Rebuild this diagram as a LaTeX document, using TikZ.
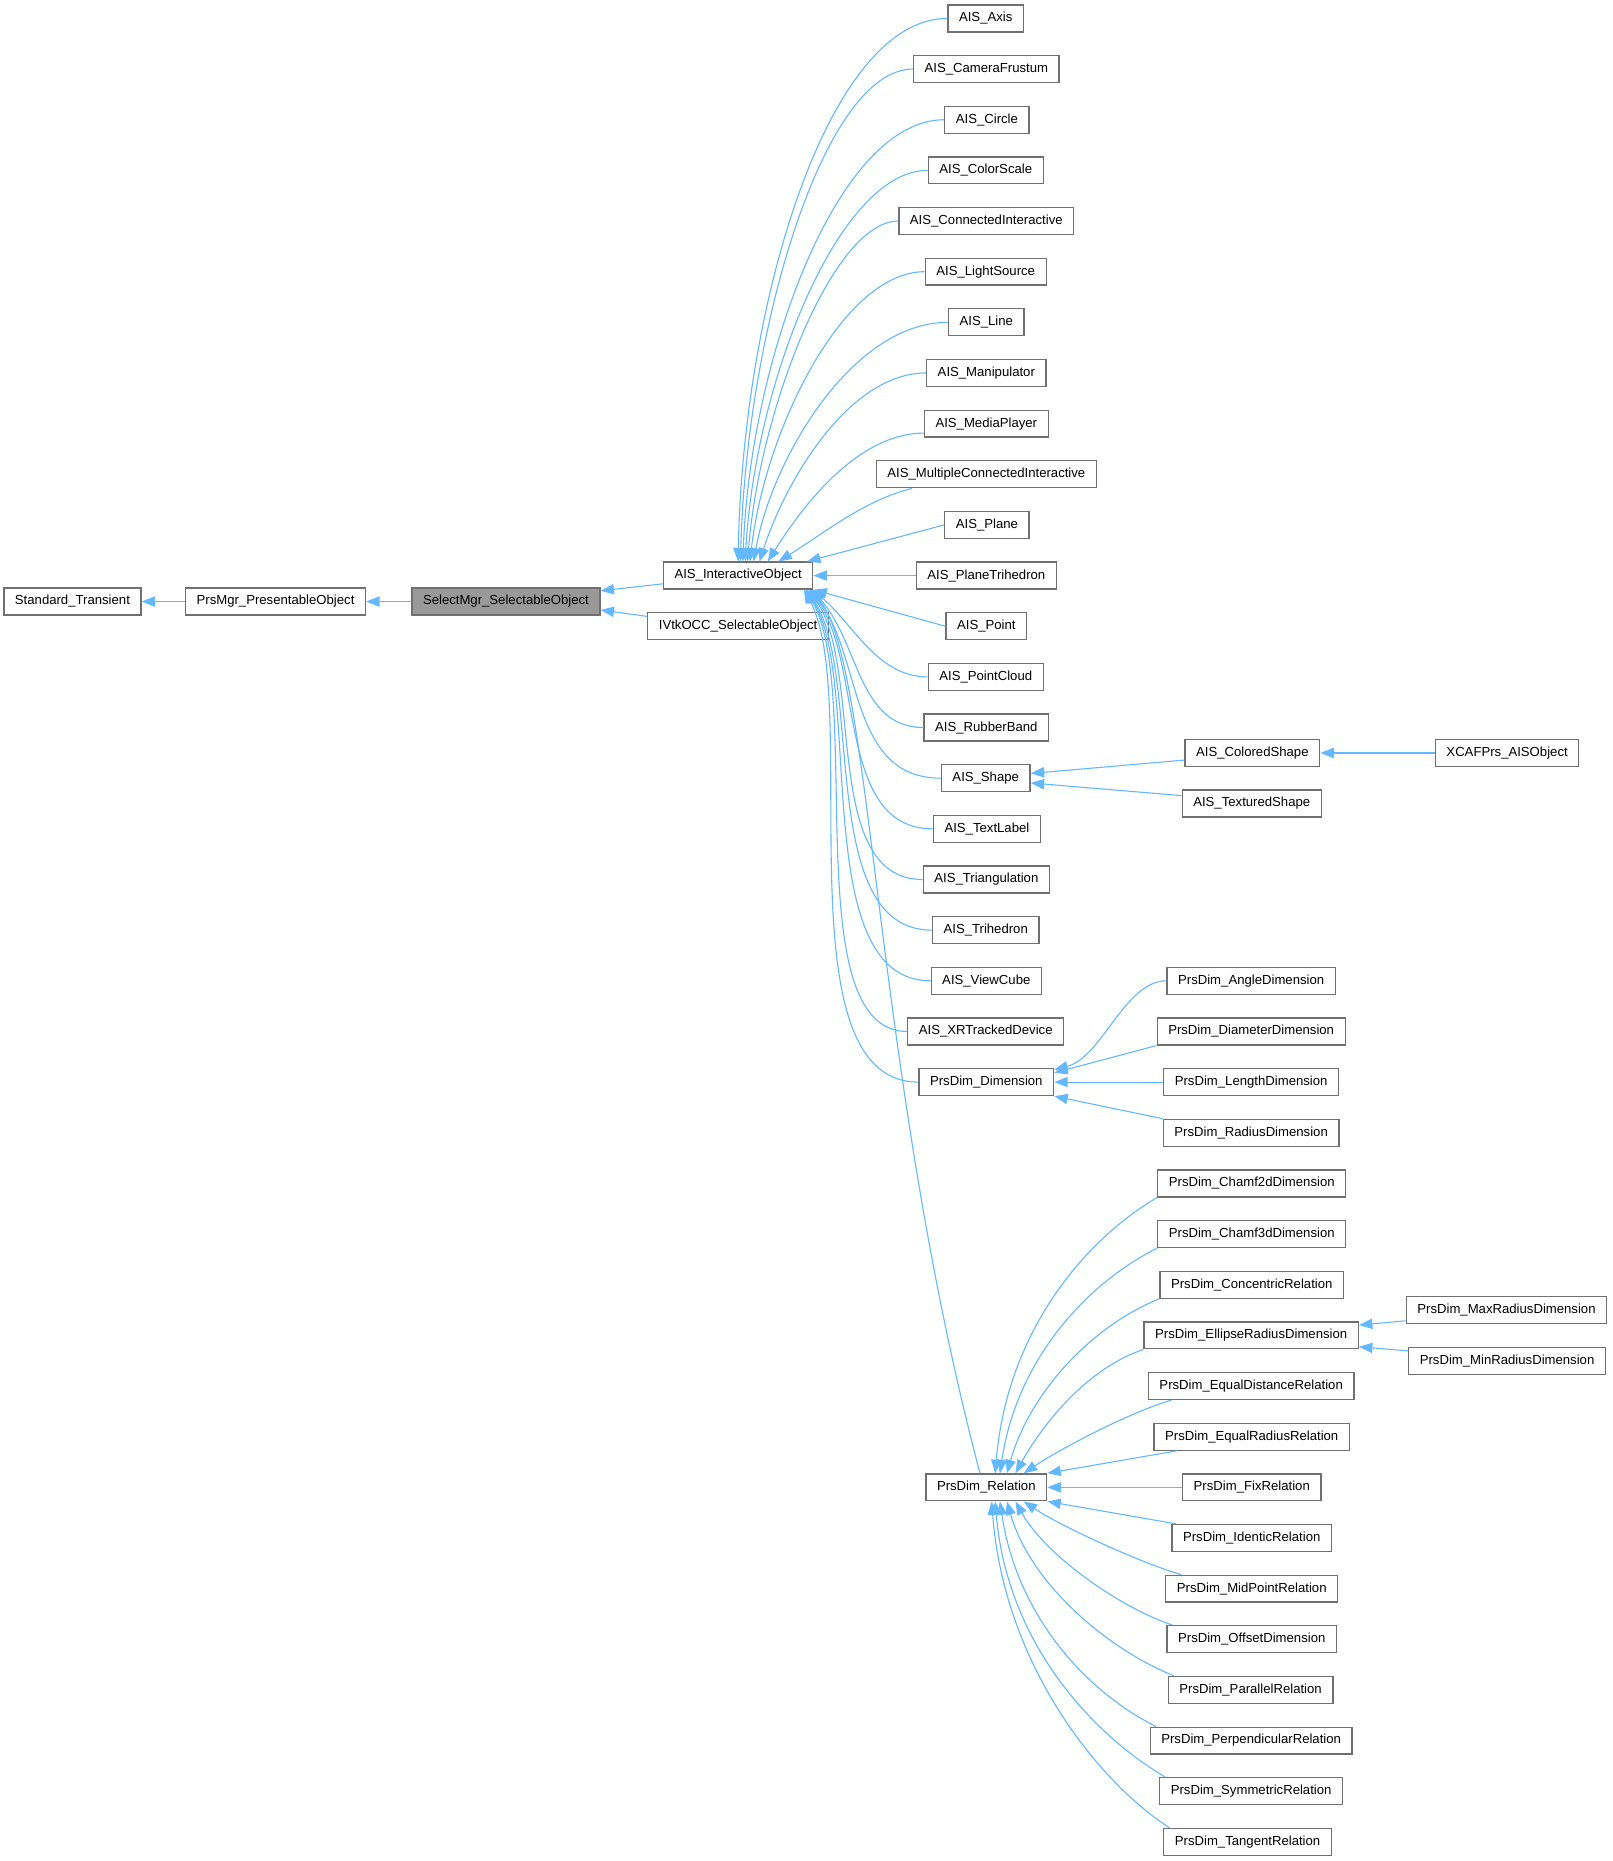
\documentclass[tikz,border=0pt]{standalone}
\usepackage{fontspec}
\setmainfont{Liberation Sans}
\usepackage{xcolor}
\usepackage{tikz}
\usetikzlibrary{positioning, arrows.meta}

\definecolor{edgeblue}{RGB}{99,184,255}
\definecolor{boxline}{RGB}{112,112,112}
\definecolor{selfill}{RGB}{153,153,153}

\tikzset{
    cls/.style={draw=boxline, fill=white, line width=0.8pt, inner xsep=7pt, inner ysep=0pt,
        minimum height=17pt, font=\fontsize{8.3}{10}\selectfont},
    selcls/.style={cls, fill=selfill},
    inh/.style={draw=edgeblue, line width=0.7pt, -{Triangle[length=8.5pt,width=6.5pt]}}
}

\begin{document}
\begin{tikzpicture}[x=0.75pt, y=-0.75pt]
    \useasboundingbox (0,0) rectangle (1357.4,1567);
    \node[cls]    (st)  at (61,506.5)    {Standard\_Transient};
    \node[cls]    (pmo) at (232,506.5)   {PrsMgr\_PresentableObject};
    \node[selcls] (smo) at (426,506.5)   {SelectMgr\_SelectableObject};
    \node[cls]    (aio) at (621.5,484.65) {AIS\_InteractiveObject};
    \node[cls]    (ivk) at (621.5,527.3)  {IVtkOCC\_SelectableObject};

    \node[cls] (axis)   at (830,15.5)    {AIS\_Axis};
    \node[cls] (camfr)  at (830.5,58.15) {AIS\_CameraFrustum};
    \node[cls] (circle) at (831,100.8)   {AIS\_Circle};
    \node[cls] (cscale) at (830,143.45)  {AIS\_ColorScale};
    \node[cls] (conn)   at (830.5,186.1) {AIS\_ConnectedInteractive};
    \node[cls] (light)  at (830,228.75)  {AIS\_LightSource};
    \node[cls] (line)   at (830.5,271.4) {AIS\_Line};
    \node[cls] (manip)  at (830.5,314.05) {AIS\_Manipulator};
    \node[cls] (media)  at (830.5,356.7) {AIS\_MediaPlayer};
    \node[cls] (mconn)  at (830.5,399.35) {AIS\_MultipleConnectedInteractive};
    \node[cls] (plane)  at (831,442)     {AIS\_Plane};
    \node[cls] (ptri)   at (830.5,484.65) {AIS\_PlaneTrihedron};
    \node[cls] (point)  at (830.5,527.3) {AIS\_Point};
    \node[cls] (pcloud) at (830,569.95)  {AIS\_PointCloud};
    \node[cls] (rubber) at (830.5,612.6) {AIS\_RubberBand};
    \node[cls] (shape)  at (830,655.25)  {AIS\_Shape};
    \node[cls] (tlabel) at (831,697.9)   {AIS\_TextLabel};
    \node[cls] (triang) at (830.5,740.55) {AIS\_Triangulation};
    \node[cls] (trihed) at (830,783.2)   {AIS\_Trihedron};
    \node[cls] (vcube)  at (830.5,825.85) {AIS\_ViewCube};
    \node[cls] (xrdev)  at (830,868.5)   {AIS\_XRTrackedDevice};
    \node[cls] (dim)    at (830.5,911.15) {PrsDim\_Dimension};
    \node[cls] (rel)    at (830.5,1252.35) {PrsDim\_Relation};

    \node[cls] (colsh)  at (1054.5,634)   {AIS\_ColoredShape};
    \node[cls] (texsh)  at (1054,676.6)   {AIS\_TexturedShape};
    \node[cls] (angle)  at (1053.5,825.85) {PrsDim\_AngleDimension};
    \node[cls] (diam)   at (1053.5,868.5) {PrsDim\_DiameterDimension};
    \node[cls] (length) at (1053.5,911.15) {PrsDim\_LengthDimension};
    \node[cls] (radius) at (1053.5,953.8) {PrsDim\_RadiusDimension};
    \node[cls] (chamfa) at (1054,996.45)  {PrsDim\_Chamf2dDimension};
    \node[cls] (chamfb) at (1054,1039.1)  {PrsDim\_Chamf3dDimension};
    \node[cls] (conc)   at (1054,1081.75) {PrsDim\_ConcentricRelation};
    \node[cls] (ellip)  at (1053.5,1124.4) {PrsDim\_EllipseRadiusDimension};
    \node[cls] (eqd)    at (1053.5,1167.05) {PrsDim\_EqualDistanceRelation};
    \node[cls] (eqr)    at (1054,1209.7)  {PrsDim\_EqualRadiusRelation};
    \node[cls] (fix)    at (1054,1252.35) {PrsDim\_FixRelation};
    \node[cls] (ident)  at (1054,1295)    {PrsDim\_IdenticRelation};
    \node[cls] (midp)   at (1054,1337.65) {PrsDim\_MidPointRelation};
    \node[cls] (offs)   at (1054,1380.3)  {PrsDim\_OffsetDimension};
    \node[cls] (para)   at (1053,1422.95) {PrsDim\_ParallelRelation};
    \node[cls] (perp)   at (1053.5,1465.6) {PrsDim\_PerpendicularRelation};
    \node[cls] (symm)   at (1053.5,1508.25) {PrsDim\_SymmetricRelation};
    \node[cls] (tang)   at (1050.5,1550.9) {PrsDim\_TangentRelation};

    \node[cls] (xcaf)   at (1269,634)     {XCAFPrs\_AISObject};
    \node[cls] (maxr)   at (1268.5,1103.1) {PrsDim\_MaxRadiusDimension};
    \node[cls] (minr)   at (1269,1145.7)  {PrsDim\_MinRadiusDimension};

    \draw[inh] (pmo.west) -- (st.east);
    \draw[inh] (smo.west) -- (pmo.east);
    \draw[inh] ([yshift=-5.2pt]aio.west) -- ([yshift=6.8pt]smo.east);
    \draw[inh] ([yshift=6.2pt]ivk.west) -- ([yshift=-5.3pt]smo.east);

    \draw[inh] (axis.west)   .. controls +(-100,0) and +(4,-220) .. (aio.north);
    \draw[inh] (camfr.west)  .. controls +(-75,0) and +(5,-195) .. ([xshift=1.5pt]aio.north);
    \draw[inh] (circle.west) .. controls +(-90,0) and +(6,-170) .. ([xshift=3pt]aio.north);
    \draw[inh] (cscale.west) .. controls +(-75,0) and +(8,-150) .. ([xshift=4.5pt]aio.north);
    \draw[inh] (conn.west)   .. controls +(-55,0) and +(10,-128) .. ([xshift=6pt]aio.north);
    \draw[inh] (light.west)  .. controls +(-70,0) and +(12,-108) .. ([xshift=7.5pt]aio.north);
    \draw[inh] (line.west)   .. controls +(-80,0) and +(16,-88) .. ([xshift=9.75pt]aio.north);
    \draw[inh] (manip.west)  .. controls +(-65,0) and +(22,-68) .. ([xshift=13.5pt]aio.north);
    \draw[inh] ([yshift=-6pt]media.west) .. controls +(-55,0) and +(30,-48) .. ([xshift=18.75pt]aio.north);
    \draw[inh] ([xshift=23pt]mconn.south west) .. controls +(-40,10) and +(40,-25) .. ([xshift=25.5pt]aio.north);
    \draw[inh] (plane.west) -- ([xshift=-4pt]aio.north east);
    \draw[inh] (ptri.west) -- (aio.east);
    \draw[inh] (point.west) -- (aio.south east);

    \draw[inh] (pcloud.west) .. controls +(-42,0) and +(35,30) .. ([xshift=-0.5pt]aio.south east);
    \draw[inh] (rubber.west) .. controls +(-55,0) and +(40,45) .. ([xshift=-1pt]aio.south east);
    \draw[inh] (shape.west)  .. controls +(-78,0) and +(44,55) .. ([xshift=-2pt]aio.south east);
    \draw[inh] (tlabel.west) .. controls +(-82,0) and +(46,62) .. ([xshift=-2.5pt]aio.south east);
    \draw[inh] (triang.west) .. controls +(-86,0) and +(47,68) .. ([xshift=-3pt]aio.south east);
    \draw[inh] (trihed.west) .. controls +(-98,0) and +(48,74) .. ([xshift=-4pt]aio.south east);
    \draw[inh] (vcube.west)  .. controls +(-104,0) and +(49,80) .. ([xshift=-4.5pt]aio.south east);
    \draw[inh] (xrdev.west)  .. controls +(-94,0) and +(50,86) .. ([xshift=-5pt]aio.south east);
    \draw[inh] (dim.west)    .. controls +(-118,0) and +(50,92) .. ([xshift=-6pt]aio.south east);
    \draw[inh] ([xshift=-4pt]rel.north) .. controls +(-90,-340) and +(52,63) .. ([xshift=-1.5pt]aio.south east);

    \draw[inh] ([yshift=-4.5pt]colsh.west) -- ([yshift=3pt]shape.east);
    \draw[inh] ([yshift=5pt]texsh.west) -- ([yshift=-3pt]shape.east);
    \draw[inh] (xcaf.west) -- (colsh.east);

    \draw[inh] (angle.west) .. controls +(-35,0) and +(40,-10) .. ([yshift=-1pt]dim.north east);
    \draw[inh] (diam.south west) -- ([yshift=-3pt]dim.north east);
    \draw[inh] (length.west) -- (dim.east);
    \draw[inh] (radius.north west) -- (dim.south east);

    \draw[inh] ([yshift=-6.75pt]maxr.west) -- ([yshift=6.5pt]ellip.east);
    \draw[inh] ([yshift=6.2pt]minr.west) -- ([yshift=-7.2pt]ellip.east);

    \draw[inh] (chamfa.south west) .. controls +(-60,35) and +(10,-120) .. ([xshift=5.6pt]rel.north);
    \draw[inh] (chamfb.south west) .. controls +(-60,30) and +(14,-95) .. ([xshift=8.6pt]rel.north);
    \draw[inh] (conc.south west)   .. controls +(-55,22) and +(20,-70) .. ([xshift=13pt]rel.north);
    \draw[inh] (ellip.south west)  .. controls +(-45,15) and +(25,-45) .. ([xshift=18.4pt]rel.north);
    \draw[inh] ([xshift=15pt]eqd.south west) .. controls +(-35,10) and +(30,-20) .. ([xshift=23.6pt]rel.north);
    \draw[inh] ([xshift=15pt]eqr.south west) -- (rel.north east);
    \draw[inh] (fix.west) -- (rel.east);
    \draw[inh] ([xshift=3pt]ident.north west) -- (rel.south east);
    \draw[inh] ([xshift=10pt]midp.north west) .. controls +(-35,-10) and +(30,20) .. ([xshift=23.6pt]rel.south);
    \draw[inh] ([xshift=4pt]offs.north west) .. controls +(-45,-15) and +(25,45) .. ([xshift=18.4pt]rel.south);
    \draw[inh] ([xshift=4pt]para.north west) .. controls +(-55,-22) and +(20,70) .. ([xshift=13pt]rel.south);
    \draw[inh] ([xshift=4pt]perp.north west) .. controls +(-60,-30) and +(14,95) .. ([xshift=8.6pt]rel.south);
    \draw[inh] ([xshift=4pt]symm.north west) .. controls +(-60,-35) and +(10,120) .. ([xshift=5.6pt]rel.south);
    \draw[inh] ([xshift=4pt]tang.north west) .. controls +(-62,-40) and +(10,135) .. ([xshift=3.4pt]rel.south);
\end{tikzpicture}
\end{document}
